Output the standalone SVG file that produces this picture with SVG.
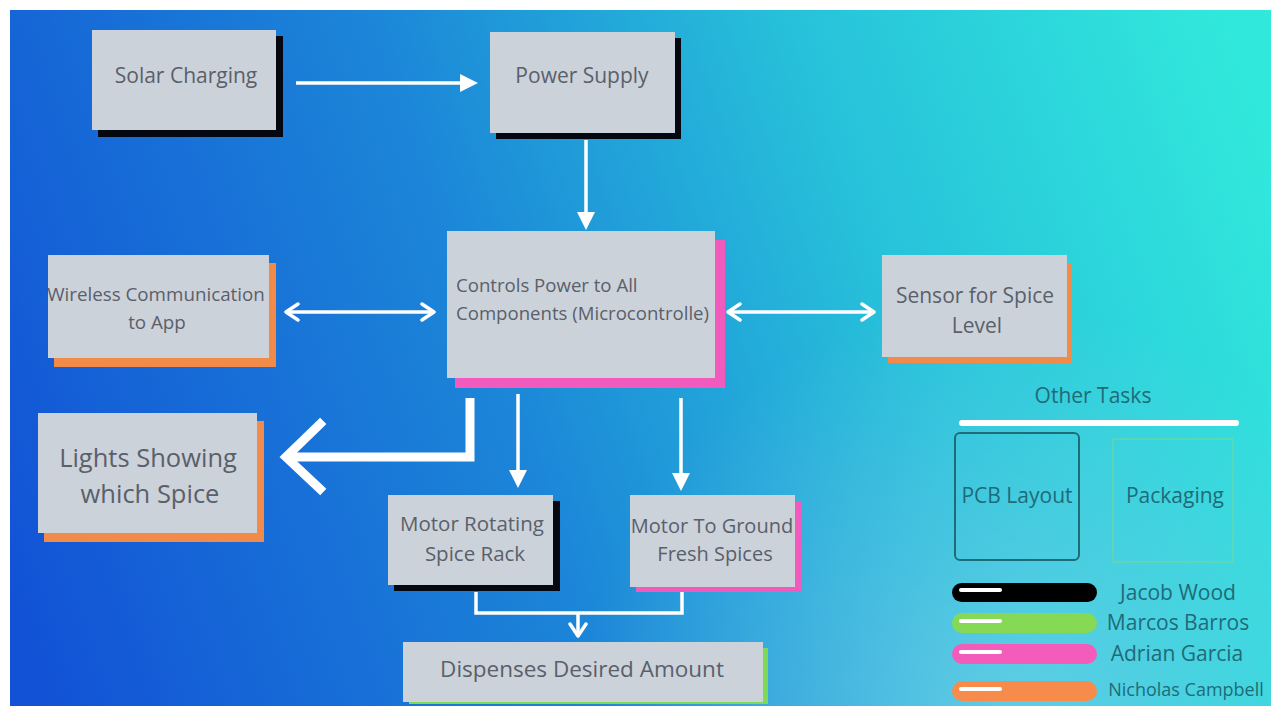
<svg xmlns="http://www.w3.org/2000/svg" width="1271" height="706" viewBox="0 0 1271 706">
<defs>
<linearGradient id="bg" gradientUnits="userSpaceOnUse" x1="10" y1="600" x2="1271" y2="150">
<stop offset="0" stop-color="#1252d6"/>
<stop offset="0.4" stop-color="#1c86d8"/>
<stop offset="0.7" stop-color="#27c2da"/>
<stop offset="1" stop-color="#31e8dc"/>
</linearGradient>
<radialGradient id="glow" gradientUnits="userSpaceOnUse" cx="1000" cy="720" r="420">
<stop offset="0" stop-color="#8fd8ee" stop-opacity="0.55"/>
<stop offset="1" stop-color="#8fd8ee" stop-opacity="0"/>
</radialGradient>
<marker id="triL" markerWidth="18" markerHeight="18" refX="14" refY="9" orient="auto" markerUnits="userSpaceOnUse">
<path d="M0,0 L18,9 L0,18 z" fill="#ffffff"/>
</marker>
<marker id="chev" markerWidth="16" markerHeight="20" refX="14" refY="10" orient="auto-start-reverse" markerUnits="userSpaceOnUse">
<path d="M2,2 L14,10 L2,18" fill="none" stroke="#ffffff" stroke-width="3.5" stroke-linecap="round" stroke-linejoin="round"/>
</marker>
</defs>
<style>
.box{fill:#ccd2da}
.t{font-family:"Open Sans","Liberation Sans",sans-serif;fill:#5a606a;text-anchor:middle}
.lg{font-family:"Open Sans","Liberation Sans",sans-serif;fill:#1f6b78;text-anchor:middle;font-size:21px}
.ln{stroke:#ffffff;stroke-width:3.5;fill:none}
</style>
<rect x="0" y="0" width="1271" height="706" fill="#ffffff"/>
<rect x="10" y="10" width="1261" height="696" fill="url(#bg)"/>
<rect x="10" y="10" width="1261" height="696" fill="url(#glow)"/>

<g id="connectors">
<line class="ln" x1="296" y1="83" x2="474" y2="83" marker-end="url(#triL)"/>
<line class="ln" x1="586" y1="140" x2="586" y2="226" marker-end="url(#triL)"/>
<line class="ln" x1="286" y1="312" x2="434" y2="312" marker-start="url(#chev)" marker-end="url(#chev)"/>
<line class="ln" x1="728" y1="312" x2="874" y2="312" marker-start="url(#chev)" marker-end="url(#chev)"/>
<polyline points="470,398 470,457 290,457" fill="none" stroke="#ffffff" stroke-width="9"/>
<polyline points="320,424 286,457 320,489" fill="none" stroke="#ffffff" stroke-width="9" stroke-linecap="square"/>
<line class="ln" x1="518" y1="394" x2="518" y2="484" marker-end="url(#triL)"/>
<line class="ln" x1="681" y1="398" x2="681" y2="487" marker-end="url(#triL)"/>
<polyline class="ln" points="476,592 476,613 682,613 682,592"/>
<line class="ln" x1="578" y1="613" x2="578" y2="636" marker-end="url(#chev)"/>
</g>

<g id="solar">
<rect x="98" y="36" width="185" height="101" fill="#050810"/>
<rect class="box" x="92" y="30" width="184" height="100"/>
<text class="t" x="186" y="83" font-size="21">Solar Charging</text>
</g>
<g id="power">
<rect x="496" y="38" width="185" height="101" fill="#050810"/>
<rect class="box" x="490" y="32" width="185" height="101"/>
<text class="t" x="582" y="83" font-size="21">Power Supply</text>
</g>
<g id="controller">
<rect x="455" y="240" width="270" height="148" fill="#f05bbd"/>
<rect class="box" x="447" y="231" width="268" height="147"/>
<text class="t" x="456" y="292" font-size="18.6" style="text-anchor:start">Controls Power to All</text>
<text class="t" x="456" y="320" font-size="18.6" style="text-anchor:start">Components (Microcontrolle)</text>
</g>
<g id="wireless">
<rect x="54" y="263" width="222" height="104" fill="#f28a4a"/>
<rect class="box" x="48" y="255" width="221" height="103"/>
<text class="t" x="156" y="301" font-size="18.8">Wireless Communication</text>
<text class="t" x="157" y="329" font-size="18.8">to App</text>
</g>
<g id="sensor">
<rect x="888" y="263" width="183" height="100" fill="#f28a4a"/>
<rect class="box" x="882" y="255" width="185" height="102"/>
<text class="t" x="975" y="303" font-size="21">Sensor for Spice</text>
<text class="t" x="977" y="333" font-size="21">Level</text>
</g>
<g id="lights">
<rect x="44" y="421" width="220" height="121" fill="#f28a4a"/>
<rect class="box" x="38" y="413" width="219" height="120"/>
<text class="t" x="148" y="467" font-size="25.5">Lights Showing</text>
<text class="t" x="150" y="503" font-size="25.5">which Spice</text>
</g>
<g id="motor-rotating">
<rect x="394" y="501" width="166" height="90" fill="#050810"/>
<rect class="box" x="388" y="495" width="165" height="90"/>
<text class="t" x="472" y="531" font-size="20.5">Motor Rotating</text>
<text class="t" x="475" y="561" font-size="20.5">Spice Rack</text>
</g>
<g id="motor-ground">
<rect x="636" y="501" width="165" height="91" fill="#f05bbd"/>
<rect class="box" x="630" y="495" width="165" height="92"/>
<text class="t" x="712" y="533" font-size="20">Motor To Ground</text>
<text class="t" x="715" y="561" font-size="20">Fresh Spices</text>
</g>
<g id="dispenses">
<rect x="409" y="648" width="359" height="56" fill="#7ed957"/>
<rect class="box" x="403" y="642" width="360" height="60"/>
<text class="t" x="582" y="677" font-size="22.5">Dispenses Desired Amount</text>
</g>

<g id="other-tasks">
<text class="lg" x="1093" y="403">Other Tasks</text>
<line x1="962" y1="423" x2="1236" y2="423" stroke="#ffffff" stroke-width="6" stroke-linecap="round"/>
</g>
<g id="pcb">
<rect x="955" y="433" width="124" height="127" rx="5" fill="none" stroke="#1f6b78" stroke-width="2"/>
<text class="lg" x="1017" y="503">PCB Layout</text>
</g>
<g id="packaging">
<rect x="1113" y="439" width="120" height="123" fill="none" stroke="#7fd88a" stroke-width="1.5" stroke-opacity="0.6"/>
<text class="lg" x="1175" y="503">Packaging</text>
</g>
<g id="legend">
<rect x="952" y="583" width="145" height="19" rx="9.5" fill="#000000"/>
<line x1="961" y1="590" x2="1000" y2="590" stroke="#ffffff" stroke-width="4" stroke-linecap="round"/>
<text class="lg" x="1178" y="600">Jacob Wood</text>
<rect x="952" y="613" width="145" height="20" rx="10" fill="#86d955"/>
<line x1="961" y1="621" x2="1000" y2="621" stroke="#ffffff" stroke-width="4" stroke-linecap="round"/>
<text class="lg" x="1178" y="630">Marcos Barros</text>
<rect x="952" y="644" width="145" height="20" rx="10" fill="#f45cbc"/>
<line x1="961" y1="652" x2="1000" y2="652" stroke="#ffffff" stroke-width="4" stroke-linecap="round"/>
<text class="lg" x="1177" y="661">Adrian Garcia</text>
<rect x="952" y="681" width="145" height="20" rx="10" fill="#f68b4c"/>
<line x1="961" y1="689" x2="1000" y2="689" stroke="#ffffff" stroke-width="4" stroke-linecap="round"/>
<text class="lg" x="1186" y="696" style="font-size:18px">Nicholas Campbell</text>
</g>
</svg>
